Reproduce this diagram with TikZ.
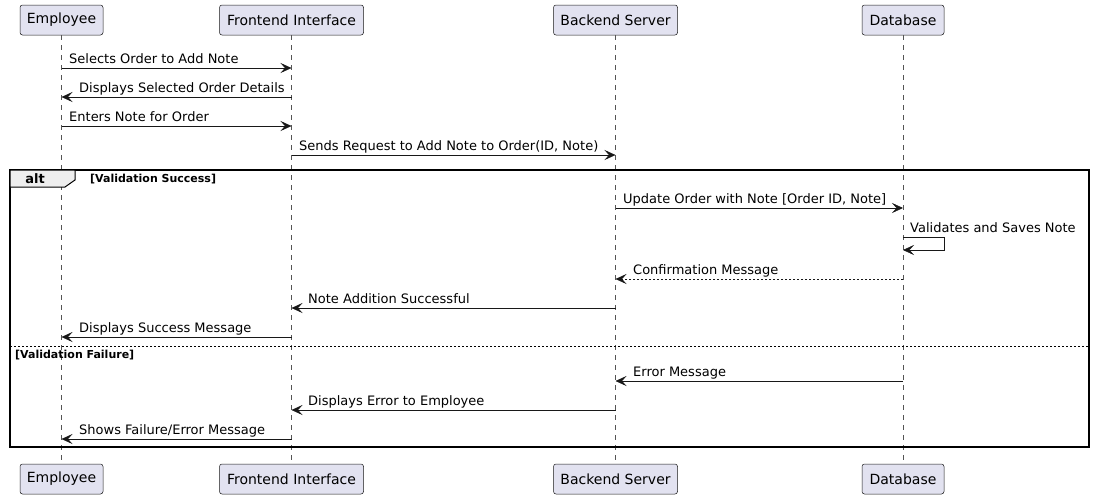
\documentclass[tikz,border=0pt]{standalone}
\usepackage{fontspec}
\setmainfont{DejaVu Sans}
\usetikzlibrary{arrows.meta,calc}
\definecolor{partfill}{HTML}{E2E2F0}
\definecolor{partline}{HTML}{181818}
\definecolor{lifegray}{HTML}{555555}
\definecolor{tabfill}{HTML}{EEEEEE}
\tikzset{
  part/.style={draw=partline, fill=partfill, rounded corners=2.5pt, line width=0.5pt,
    minimum height=30pt, inner sep=0pt, font=\fontsize{14}{16}\selectfont, text=black},
  lifeline/.style={draw=lifegray, line width=0.5pt, dash pattern=on 5pt off 5pt},
  tip/.style={-{Stealth[length=11pt,width=10pt,inset=4.5pt,line width=0.5pt]}},
  msg/.style={draw=partline, line width=1pt, tip},
  ret/.style={msg, dash pattern=on 2pt off 2pt},
  lbl/.style={anchor=base west, inner sep=0pt, font=\fontsize{13}{15}\selectfont},
  guard/.style={anchor=base west, inner sep=0pt, font=\fontsize{11}{13}\selectfont\bfseries},
}
\begin{document}
\begin{tikzpicture}[x=1pt,y=-1pt]
\useasboundingbox (0,0) rectangle (1094,499);
% participants
\node[part, minimum width=83pt] (Et) at (61.5,20) {Employee};
\node[part, minimum width=144pt] (Ft) at (291.5,20) {Frontend Interface};
\node[part, minimum width=124pt] (Bt) at (615.5,20) {Backend Server};
\node[part, minimum width=82pt] (Dt) at (903,20) {Database};
\node[part, minimum width=83pt] (Eb) at (61.5,479) {Employee};
\node[part, minimum width=144pt] (Fb) at (291.5,479) {Frontend Interface};
\node[part, minimum width=124pt] (Bb) at (615.5,479) {Backend Server};
\node[part, minimum width=82pt] (Db) at (903,479) {Database};
% lifelines
\draw[lifeline] (Et.south) -- (Eb.north);
\draw[lifeline] (Ft.south) -- (Fb.north);
\draw[lifeline] (Bt.south) -- (Bb.north);
\draw[lifeline] (Dt.south) -- (Db.north);
% alt frame
\draw[line width=1.4pt, draw=black] (10,170) rectangle (1089,447);
\draw[line width=1pt, fill=tabfill] (10,170) -- (75,170) -- (75,180) -- (65,187) -- (10,187) -- cycle;
\node[anchor=base, inner sep=0pt, font=\fontsize{13}{15}\selectfont\bfseries] (altl) at (35,183) {alt};
\node[guard] (g1) at (90,182) {[Validation Success]};
\draw[line width=0.8pt, dash pattern=on 2pt off 2pt] (10,346) -- (1089,346);
\node[guard] (g2) at (15,358) {[Validation Failure]};
% messages
\draw[msg] (Et |- 0,68) -- (Ft |- 0,68);
\node[lbl] (l1) at (69,63) {Selects Order to Add Note};
\draw[msg] (Ft |- 0,97) -- (Et |- 0,97);
\node[lbl] (l2) at (79,92) {Displays Selected Order Details};
\draw[msg] (Et |- 0,126) -- (Ft |- 0,126);
\node[lbl] (l3) at (69,121) {Enters Note for Order};
\draw[msg] (Ft |- 0,155) -- (Bt |- 0,155);
\node[lbl] (l4) at (299,150) {Sends Request to Add Note to Order(ID, Note)};
\draw[msg] (Bt |- 0,208) -- (Dt |- 0,208);
\node[lbl] (l5) at (623,203) {Update Order with Note [Order ID, Note]};
\coordinate (s1) at (944,237);
\draw[msg] (Dt |- 0,237) -- (s1) |- (Dt |- 0,250);
\node[lbl] (l6) at (910,232) {Validates and Saves Note};
\draw[ret] (Dt |- 0,279) -- (Bt |- 0,279);
\node[lbl] (l7) at (633,274) {Confirmation Message};
\draw[msg] (Bt |- 0,308) -- (Ft |- 0,308);
\node[lbl] (l8) at (308,303) {Note Addition Successful};
\draw[msg] (Ft |- 0,337) -- (Et |- 0,337);
\node[lbl] (l9) at (79,332) {Displays Success Message};
\draw[msg] (Dt |- 0,381) -- (Bt |- 0,381);
\node[lbl] (l10) at (633,376) {Error Message};
\draw[msg] (Bt |- 0,410) -- (Ft |- 0,410);
\node[lbl] (l11) at (308,405) {Displays Error to Employee};
\draw[msg] (Ft |- 0,439) -- (Et |- 0,439);
\node[lbl] (l12) at (79,434) {Shows Failure/Error Message};
\end{tikzpicture}
\end{document}
